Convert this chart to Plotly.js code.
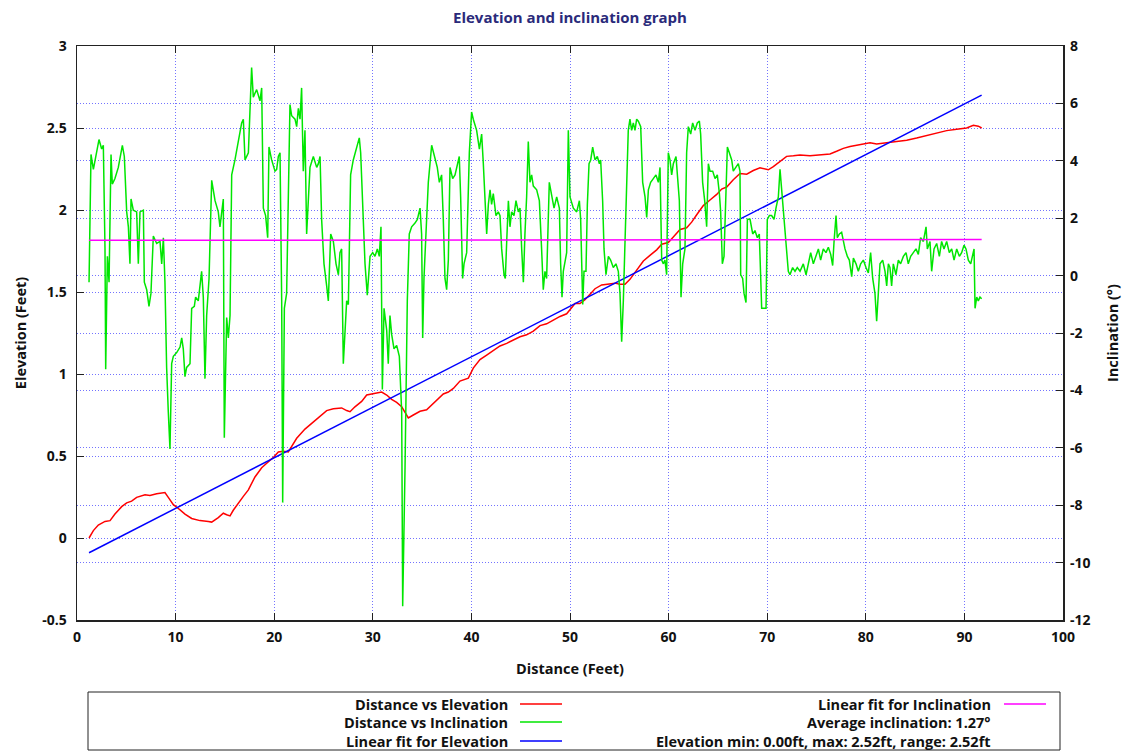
<!DOCTYPE html>
<html>
<head>
<meta charset="utf-8">
<script src="https://cdn.plot.ly/plotly-3.0.1.min.js"></script>
<style>html,body{margin:0;padding:0;background:#fff;}#chart{width:1128px;height:751px;}</style>
</head>
<body>
<div id="chart"></div>
<script>
// ---------- data ----------
const chartTitle = "Elevation and inclination graph";
const xTitle = "Distance (Feet)";
const yTitle = "Elevation (Feet)";
const y2Title = "Inclination (°)";

const elevationTicks = [-0.5, 0, 0.5, 1, 1.5, 2, 2.5, 3];
const elevationTickText = ["-0.5", "0", "0.5", "1", "1.5", "2", "2.5", "3"];
const inclinationTicks = [-12, -10, -8, -6, -4, -2, 0, 2, 4, 6, 8];
const inclinationTickText = ["-12", "-10", "-8", "-6", "-4", "-2", "0", "2", "4", "6", "8"];

const elevationDistance = [
  1.22,1.66,2.16,2.84,3.35,3.85,4.53,5.04,5.54,6.05,
  6.90,7.40,8.08,8.92,9.26,9.77,10.28,10.95,11.63,12.47,
  13.32,13.66,14.33,14.84,15.18,15.52,15.85,16.36,16.87,17.38,
  18.05,18.73,19.40,19.98,20.42,20.93,21.43,21.77,22.28,23.12,
  23.80,24.48,
  25.32,26.00,26.84,27.35,27.69,28.19,28.87,29.38,30.05,30.90,
  31.41,31.91,32.42,32.93,33.27,33.60,34.11,34.79,35.46,35.97,
  36.48,37.15,37.66,38.17,38.84,39.35,39.69,40.19,40.87,41.55,
  42.22,42.90,43.58,44.25,44.93,45.60,46.28,46.96,47.63,48.31,
  48.99,49.66,
  50.51,51.01,51.52,52.03,52.54,53.21,53.89,54.56,55.07,55.58,
  56.08,56.76,57.44,58.11,58.79,59.30,59.97,60.48,61.16,61.83,
  62.34,62.85,63.52,64.20,64.88,65.38,65.89,66.56,67.24,67.92,
  68.59,69.27,70.11,70.62,71.30,71.97,72.65,
  73.33,74.34,75.35,76.37,77.04,77.72,78.40,79.41,80.43,81.10,
  82.12,83.13,84.15,85.16,86.17,87.19,88.20,89.22,90.23,90.91,
  91.41,91.75
];
const elevation = [
  0,0.045,0.079,0.101,0.106,0.146,0.191,0.214,0.225,0.248,
  0.264,0.259,0.270,0.277,0.248,0.203,0.180,0.146,0.119,0.106,
  0.101,0.097,0.124,0.151,0.142,0.135,0.169,0.214,0.254,0.293,
  0.372,0.428,0.462,0.495,0.525,0.529,0.525,0.556,0.608,0.664,
  0.698,0.732,
  0.777,0.788,0.793,0.777,0.770,0.800,0.833,0.872,0.878,0.890,
  0.872,0.845,0.827,0.800,0.766,0.732,0.750,0.773,0.782,0.811,
  0.845,0.878,0.890,0.912,0.957,0.968,0.975,1.036,1.088,1.115,
  1.142,1.171,1.187,1.205,1.227,1.239,1.261,1.295,1.306,1.329,
  1.351,1.367,
  1.430,1.430,1.453,1.486,1.520,1.543,1.547,1.554,1.547,1.547,
  1.577,1.633,1.689,1.723,1.757,1.791,1.802,1.836,1.881,1.892,
  1.926,1.971,2.027,2.061,2.095,2.128,2.140,2.185,2.223,2.218,
  2.241,2.257,2.245,2.264,2.297,2.327,2.331,
  2.336,2.331,2.336,2.342,2.358,2.376,2.387,2.399,2.410,2.403,
  2.410,2.417,2.426,2.439,2.455,2.471,2.484,2.493,2.500,2.516,
  2.511,2.500
];

const inclinationDistance = [
  1.22,1.42,1.66,1.89,2.23,2.50,2.67,2.84,2.91,3.08,
  3.25,3.45,3.58,3.85,4.19,4.60,4.80,5.04,5.21,5.37,
  5.48,5.71,6.05,6.22,6.39,6.73,6.83,7.07,7.30,7.50,
  7.74,8.08,8.42,8.59,8.76,8.92,9.09,9.26,9.43,9.60,
  9.77,10.11,10.45,10.62,10.78,10.95,11.12,11.46,11.63,11.90,
  12.03,12.30,12.47,12.64,12.81,12.98,13.15,13.39,13.66,14.00,
  14.33,14.50,14.84,14.94,15.18,15.35,15.52,15.69,16.02,16.36,
  16.70,16.87,17.04,17.38,17.71,17.88,18.22,18.56,18.73,18.90,
  19.13,19.34,19.47,19.74,20.08,20.25,20.42,20.59,20.76,20.86,
  21.03,21.26,21.60,21.77,22.11,22.28,22.45,22.62,22.78,22.95,
  23.12,23.29,23.63,23.97,24.31,24.48,
  24.65,24.81,25.05,25.32,25.49,25.73,26.00,26.27,26.51,26.67,
  26.84,27.01,27.18,27.35,27.52,27.75,28.02,28.36,28.63,28.77,
  28.97,29.21,29.44,29.72,29.99,30.22,30.46,30.66,30.83,30.97,
  31.14,31.41,31.57,31.74,31.91,32.15,32.42,32.69,32.93,33.03,
  33.27,33.50,33.70,33.94,34.28,34.52,34.79,34.95,35.06,35.19,
  35.39,35.63,35.97,36.31,36.54,36.75,36.98,37.15,37.32,37.49,
  37.66,37.83,38.10,38.34,38.57,38.77,38.91,39.11,39.25,39.52,
  39.79,40.02,40.19,40.53,40.81,41.04,41.21,41.38,41.55,41.72,
  41.89,42.05,42.22,42.49,42.73,42.90,43.07,43.31,43.44,43.58,
  43.75,43.91,44.08,44.32,44.52,44.76,44.93,45.10,45.27,45.43,
  45.60,45.77,45.94,46.11,46.28,46.62,46.89,47.12,47.29,47.46,
  47.63,47.90,48.14,48.38,48.65,48.92,49.05,49.19,49.32,49.49,
  49.66,49.83,50.00,
  50.34,50.68,50.95,51.08,51.29,51.42,51.62,51.76,51.93,52.10,
  52.30,52.54,52.77,52.98,53.11,53.31,53.45,53.65,53.89,54.12,
  54.39,54.66,54.90,55.07,55.24,55.41,55.58,55.75,55.91,56.08,
  56.25,56.42,56.59,56.76,56.93,57.17,57.37,57.61,57.78,57.95,
  58.18,58.45,58.72,58.96,59.13,59.30,59.47,59.63,59.80,59.97,
  60.14,60.31,60.48,60.75,60.89,61.09,61.26,61.43,61.66,61.83,
  62.00,62.24,62.44,62.68,62.91,63.12,63.25,63.45,63.66,63.86,
  64.03,64.20,64.47,64.71,64.94,65.15,65.28,65.45,65.62,65.82,
  65.96,66.16,66.40,66.56,66.84,67.07,67.24,67.31,67.51,67.65,
  67.85,67.99,68.26,68.53,68.76,69.00,69.20,69.44,69.68,69.88,
  70.01,70.22,70.45,70.69,70.89,71.13,71.30,71.47,71.64,71.81,
  71.97,72.14,72.31,72.58,72.82,73.05,
  73.33,73.66,73.94,74.17,74.41,74.68,74.95,75.19,75.42,75.69,
  75.96,76.20,76.44,76.64,76.78,76.98,77.11,77.32,77.55,77.72,
  77.89,78.13,78.33,78.57,78.74,79.01,79.24,79.48,79.75,80.02,
  80.26,80.49,80.70,80.93,81.10,81.27,81.44,81.71,81.95,82.12,
  82.29,82.45,82.62,82.79,83.06,83.30,83.53,83.81,84.08,84.31,
  84.55,84.82,85.09,85.33,85.56,85.84,86.11,86.24,86.51,86.68,
  86.92,87.19,87.46,87.69,87.93,88.20,88.47,88.71,88.95,89.22,
  89.49,89.72,89.96,90.16,90.40,90.64,90.84,90.98,91.08,91.25,
  91.41,91.58,91.75
];
const inclination = [
  -0.23,4.22,3.70,4.15,4.74,4.41,4.54,0.93,-3.26,0.67,
  -0.23,4.22,3.19,3.38,3.77,4.54,4.15,2.22,1.70,0.41,
  2.67,2.28,2.22,0.41,2.22,2.28,-0.23,-0.49,-1.07,-0.62,
  1.38,1.12,1.19,0.41,1.32,-0.23,-3.20,-4.75,-6.04,-3.07,
  -2.81,-2.68,-2.49,-2.17,-2.55,-3.52,-3.20,-3.07,-1.14,-1.07,
  -0.75,-0.88,-0.36,0.15,-0.75,-3.59,-1.39,-0.10,3.32,2.61,
  2.22,1.70,2.67,-5.65,-1.46,-2.17,-1.39,3.51,4.03,4.67,
  5.32,5.45,4.03,4.28,7.25,6.22,6.48,6.09,6.54,2.35,
  2.09,1.32,4.48,4.03,3.64,3.70,4.15,4.28,-0.88,-7.91,
  -1.14,-0.62,5.96,5.57,5.45,5.19,5.83,5.45,6.54,3.64,
  5.06,1.45,3.77,4.15,3.77,3.90,
  4.15,1.96,0.41,-0.36,-0.88,1.45,1.19,0.41,0.03,0.80,
  0.93,-3.07,-1.91,-0.88,-1.01,3.51,4.03,4.41,4.80,4.28,
  2.48,0.41,-0.68,0.67,0.80,0.67,0.93,0.67,1.70,-3.97,
  -1.14,-1.91,-3.07,-1.39,-2.04,-2.55,-2.43,-2.81,-4.75,-11.52,
  -6.68,-0.88,1.45,1.70,1.83,1.96,2.35,1.45,-2.17,-0.10,
  1.45,3.25,4.54,4.03,3.77,3.25,3.51,1.96,-0.10,-0.49,
  0.54,3.77,3.38,3.51,3.90,4.15,2.74,-0.10,0.41,0.80,
  4.28,5.70,5.45,5.06,4.41,4.93,3.90,2.61,1.45,2.48,
  2.99,2.48,2.86,2.09,2.22,2.09,0.93,0.03,-0.10,1.19,
  2.61,1.70,2.22,2.09,2.61,2.22,2.35,0.93,-0.23,1.45,
  2.74,4.67,3.25,3.51,3.12,2.99,2.61,0.93,-0.49,0.15,
  -0.10,3.25,2.74,2.35,2.74,2.35,0.41,-0.75,0.15,0.54,
  0.80,5.06,2.74,
  2.35,2.22,2.61,1.96,-1.01,0.15,0.15,2.48,3.90,4.03,
  4.48,4.03,4.15,3.90,4.03,2.61,0.93,0.03,0.67,0.54,
  0.28,0.41,0.15,-0.62,-2.30,-0.88,1.19,2.99,5.06,5.45,
  5.06,5.32,5.06,5.45,5.38,5.19,3.25,2.74,2.03,2.99,
  3.25,3.38,3.51,3.25,3.77,0.54,0.41,0.54,0.03,4.28,
  4.03,3.51,3.90,4.15,3.51,2.61,-0.75,0.41,0.93,4.28,
  5.19,4.93,5.32,5.06,5.32,5.38,4.93,3.25,2.61,1.70,
  3.90,3.64,3.64,3.38,3.51,2.86,2.22,0.41,0.67,2.99,
  4.48,4.28,4.03,3.64,3.77,3.90,3.64,0.03,-0.10,-0.62,
  -0.94,1.96,1.96,1.45,1.57,1.32,1.45,-1.14,-1.14,-1.14,
  1.96,2.09,2.09,1.96,2.35,2.74,3.70,2.99,2.48,1.45,
  0.80,0.15,0.03,0.28,0.15,0.28,
  0.15,0.41,0.03,0.41,0.80,0.41,0.67,0.93,0.54,0.93,
  0.80,0.99,0.74,0.35,1.19,2.09,1.32,1.45,1.51,1.19,
  0.93,0.67,0.54,-0.04,0.61,0.41,0.15,0.41,0.54,0.28,
  0.09,0.80,-0.10,-0.62,-1.59,-0.62,0.41,0.54,0.15,-0.36,
  0.41,0.28,-0.36,0.41,0.03,0.54,0.41,0.67,0.80,0.41,
  0.67,0.80,0.93,0.74,1.32,1.19,1.70,0.93,1.19,0.15,
  0.93,1.12,0.67,1.19,0.93,1.19,0.80,0.93,0.54,0.93,
  0.67,0.80,1.06,0.93,0.54,0.41,0.80,0.93,-1.14,-0.75,
  -0.88,-0.75,-0.81
];

// linear fits (end points)
const fitDistance = [1.22, 91.75];
const fitElevation = [-0.09, 2.70];
const fitInclination = [1.23, 1.26];

const seriesNames = ["Distance vs Elevation", "Distance vs Inclination", "Linear fit for Elevation", "Linear fit for Inclination"];
const seriesColors = ["#ff0000", "#00e600", "#0000ff", "#ff00ff"];
const infoLines = ["Average inclination: 1.27°", "Elevation min: 0.00ft, max: 2.52ft, range: 2.52ft"];

// ---------- layout helpers ----------
const W = 1128, H = 751;
const PL = 77, PR = 1063, PT = 46, PB = 620;
const px = x => (x - PL) / (PR - PL);
const py = y => (PB - y) / (PB - PT);

const FONT = "Open Sans, Noto Sans, sans-serif";
const gridCol = "rgba(80,80,255,0.8)";
const gridDash = "1px,2px";

const traces = [
  {x: elevationDistance, y: elevation, name: seriesNames[0], type: "scatter", mode: "lines",
   line: {color: seriesColors[0], width: 1.5}, yaxis: "y"},
  {x: fitDistance, y: fitElevation, name: seriesNames[2], type: "scatter", mode: "lines",
   line: {color: seriesColors[2], width: 1.5}, yaxis: "y"},
  {x: inclinationDistance, y: inclination, name: seriesNames[1], type: "scatter", mode: "lines",
   line: {color: seriesColors[1], width: 1.5}, yaxis: "y2"},
  {x: fitDistance, y: fitInclination, name: seriesNames[3], type: "scatter", mode: "lines",
   line: {color: seriesColors[3], width: 1.5}, yaxis: "y2"}
];

// manual legend (gnuplot style: right-aligned text then sample line)
const annotations = [];
const shapes = [];
const rowsY = [704, 722, 741];
const leftCol = [0, 1, 2];
const col1TextR = 510, col1L0 = 520, col1L1 = 562;
const col2TextR = 993, col2L0 = 1004, col2L1 = 1046;
const legendFont = {family: FONT, size: 14.5, color: "#111", weight: 700};
leftCol.forEach((si, r) => {
  annotations.push({xref: "paper", yref: "paper", x: px(col1TextR), y: py(rowsY[r]), xanchor: "right", yanchor: "middle",
    text: seriesNames[si], showarrow: false, font: legendFont});
  shapes.push({type: "line", xref: "paper", yref: "paper", x0: px(col1L0), x1: px(col1L1), y0: py(rowsY[r]), y1: py(rowsY[r]),
    line: {color: seriesColors[si], width: 1.5}});
});
const rightTexts = [seriesNames[3], infoLines[0], infoLines[1]];
rightTexts.forEach((t, r) => {
  annotations.push({xref: "paper", yref: "paper", x: px(col2TextR), y: py(rowsY[r]), xanchor: "right", yanchor: "middle",
    text: t, showarrow: false, font: legendFont});
});
shapes.push({type: "line", xref: "paper", yref: "paper", x0: px(col2L0), x1: px(col2L1), y0: py(rowsY[0]), y1: py(rowsY[0]),
  line: {color: seriesColors[3], width: 1.5}});
shapes.push({type: "rect", xref: "paper", yref: "paper", x0: px(88), x1: px(1060), y0: py(692), y1: py(750),
  line: {color: "#222", width: 1}, fillcolor: "rgba(0,0,0,0)"});

const tickFont = {family: FONT, size: 14, color: "#111", weight: 700};
const titleFont = {family: FONT, size: 14.5, color: "#111", weight: 700};

const layout = {
  width: W, height: H,
  margin: {l: PL, r: W - PR, t: PT, b: H - PB, pad: 0},
  paper_bgcolor: "#ffffff", plot_bgcolor: "#ffffff",
  showlegend: false,
  title: {text: chartTitle, x: 0.5, xref: "paper", y: 1 - 18 / H, yref: "container", yanchor: "middle",
    font: {family: FONT, size: 15, color: "#2a2a7a", weight: 700}},
  xaxis: {
    range: [0, 100], dtick: 10, tick0: 0,
    ticks: "inside", ticklen: 7, tickcolor: "#222", tickwidth: 1,
    showline: true, linecolor: "#222", linewidth: 1.5, mirror: "ticks",
    showgrid: true, gridcolor: gridCol, griddash: gridDash, gridwidth: 1,
    zeroline: false, tickfont: tickFont, ticklabelstandoff: 4,
    title: {text: xTitle, font: titleFont, standoff: 18}
  },
  yaxis: {
    range: [-0.5, 3], tickmode: "array", tickvals: elevationTicks, ticktext: elevationTickText,
    ticks: "inside", ticklen: 7, tickcolor: "#222", tickwidth: 1,
    showline: true, linecolor: "#222", linewidth: 1.5, mirror: true,
    showgrid: true, gridcolor: gridCol, griddash: gridDash, gridwidth: 1,
    zeroline: false, tickfont: tickFont, ticklabelstandoff: 6,
    title: {text: yTitle, font: titleFont, standoff: 12}
  },
  yaxis2: {
    range: [-12, 8], tickmode: "array", tickvals: inclinationTicks, ticktext: inclinationTickText,
    overlaying: "y", side: "right",
    ticks: "inside", ticklen: 7, tickcolor: "#222", tickwidth: 1,
    showline: false,
    showgrid: true, gridcolor: gridCol, griddash: gridDash, gridwidth: 1,
    zeroline: false, tickfont: tickFont, ticklabelstandoff: 6,
    title: {text: y2Title, font: titleFont, standoff: 18}
  },
  annotations: annotations,
  shapes: shapes
};

Plotly.newPlot("chart", traces, layout, {displayModeBar: false, staticPlot: true});
</script>
</body>
</html>
